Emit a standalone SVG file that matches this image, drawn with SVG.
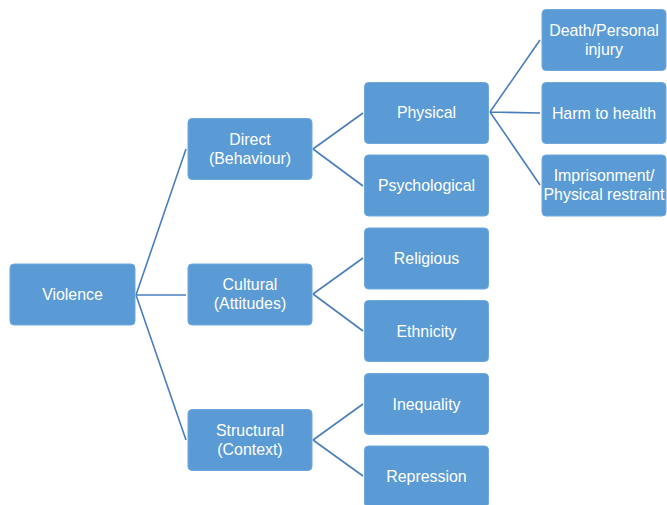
<svg xmlns="http://www.w3.org/2000/svg" width="667" height="505" viewBox="0 0 667 505">
<style>
.box{fill:#5B9BD5;stroke:#6FA8DC;stroke-width:1}
.t{font-family:"Liberation Sans",Arial,sans-serif;font-size:15.9px;fill:#FFFFFF;text-anchor:middle}
.c{stroke:#4A7EBB;stroke-width:1.6;fill:none}
</style>
<rect width="667" height="505" fill="#FFFFFF"/>
<g id="connectors">
<path class="c" d="M136 295 L186 149 M136 295 L186 295 M136 295 L186 440"/>
<path class="c" d="M313 149 L363 113 M313 149 L363 186"/>
<path class="c" d="M313 294 L363 258 M313 294 L363 331"/>
<path class="c" d="M313 440 L363 404 M313 440 L363 476"/>
<path class="c" d="M490 112 L540 40 M490 112 L540 113 M490 112 L540 185"/>
</g>
<g id="violence"><rect class="box" x="10" y="264" width="125" height="61" rx="4"/><text class="t" x="72.5" y="300">Violence</text></g>
<g id="direct"><rect class="box" x="188" y="118.5" width="124" height="61" rx="4"/><text class="t" x="250" y="144.5">Direct</text><text class="t" x="250" y="163.5">(Behaviour)</text></g>
<g id="cultural"><rect class="box" x="188" y="264" width="124" height="61" rx="4"/><text class="t" x="250" y="290">Cultural</text><text class="t" x="250" y="309">(Attitudes)</text></g>
<g id="structural"><rect class="box" x="188" y="409.5" width="124" height="61" rx="4"/><text class="t" x="250" y="435.5">Structural</text><text class="t" x="250" y="454.5">(Context)</text></g>
<g id="physical"><rect class="box" x="364.5" y="82.5" width="124" height="61" rx="4"/><text class="t" x="426.5" y="118">Physical</text></g>
<g id="psychological"><rect class="box" x="364.5" y="155" width="124" height="61" rx="4"/><text class="t" x="426.5" y="191">Psychological</text></g>
<g id="religious"><rect class="box" x="364.5" y="228" width="124" height="61" rx="4"/><text class="t" x="426.5" y="264">Religious</text></g>
<g id="ethnicity"><rect class="box" x="364.5" y="300.5" width="124" height="61" rx="4"/><text class="t" x="426.5" y="336.5">Ethnicity</text></g>
<g id="inequality"><rect class="box" x="364.5" y="373.5" width="124" height="61" rx="4"/><text class="t" x="426.5" y="409.5">Inequality</text></g>
<g id="repression"><rect class="box" x="364.5" y="446" width="124" height="61" rx="4"/><text class="t" x="426.5" y="482">Repression</text></g>
<g id="death"><rect class="box" x="542" y="9.5" width="124" height="61" rx="4"/><text class="t" x="604" y="35.5">Death/Personal</text><text class="t" x="604" y="54.5">injury</text></g>
<g id="harm"><rect class="box" x="542" y="82.5" width="124" height="61" rx="4"/><text class="t" x="604" y="118.5">Harm to health</text></g>
<g id="imprisonment"><rect class="box" x="542" y="155" width="124" height="61" rx="4"/><text class="t" x="604" y="181">Imprisonment/</text><text class="t" x="604" y="200">Physical restraint</text></g>
</svg>
